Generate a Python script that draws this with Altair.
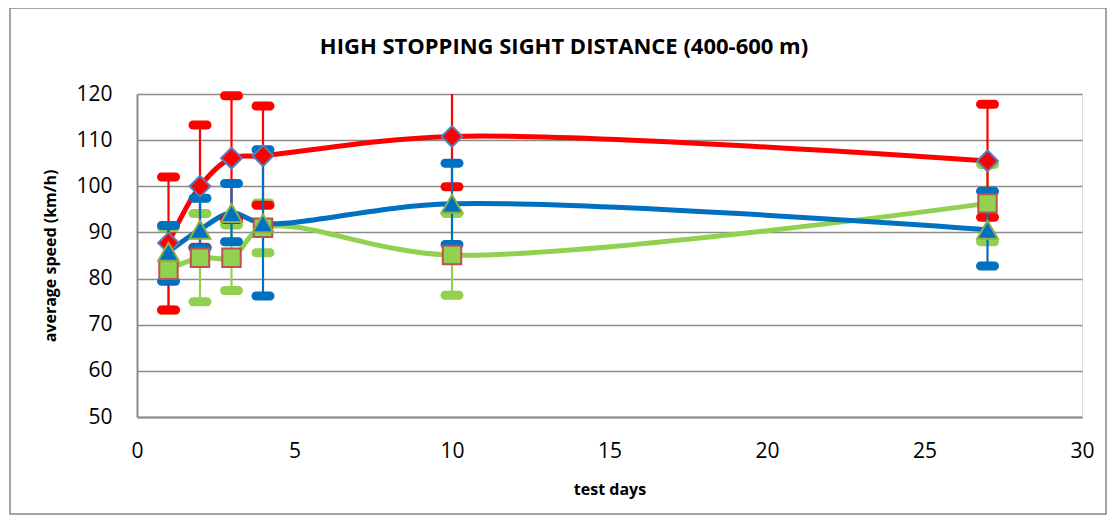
import altair as alt
import pandas as pd

days = [1, 2, 3, 4, 10, 27]

red_mean = [87.7, 100.0, 106.1, 106.6, 110.8, 105.5]
red_hi = [102.0, 113.3, 119.6, 117.4, 126.0, 117.8]
red_lo = [73.2, 86.8, 92.8, 95.9, 99.9, 93.3]

blue_mean = [85.8, 90.6, 94.2, 92.0, 96.2, 90.6]
blue_hi = [91.5, 97.4, 100.6, 107.9, 105.0, 98.9]
blue_lo = [79.4, 86.6, 88.0, 76.2, 87.4, 82.7]

green_mean = [81.9, 84.5, 84.5, 91.0, 85.1, 96.3]
green_hi = [91.0, 94.1, 91.6, 96.4, 94.1, 104.7]
green_lo = [73.2, 75.0, 77.4, 85.6, 76.4, 88.0]

chart_title = "HIGH STOPPING SIGHT DISTANCE (400-600 m)"

series_names = ["red", "blue", "green"]
series_colors = {"red": "#FF0000", "blue": "#0070C0", "green": "#92D050"}
marker_shapes = {"red": "diamond", "blue": "triangle-up", "green": "square"}
marker_strokes = {"red": "#4F81BD", "blue": "#8DB04A", "green": "#C0504D"}
marker_sizes = {"red": 430, "blue": 430, "green": 340}

means = {"red": red_mean, "blue": blue_mean, "green": green_mean}
his = {"red": red_hi, "blue": blue_hi, "green": green_hi}
los = {"red": red_lo, "blue": blue_lo, "green": green_lo}

rows = []
for s in series_names:
    for d, m, h, l in zip(days, means[s], his[s], los[s]):
        rows.append({"series": s, "day": d, "mean": m, "hi": h, "lo": l})
df = pd.DataFrame(rows)

FONT = "Open Sans"
GRAY = "#8C8C8C"

xscale = alt.Scale(domain=[0, 30], nice=False)
yscale = alt.Scale(domain=[50, 120], nice=False)

x_enc = alt.X(
    "day:Q",
    scale=xscale,
    axis=alt.Axis(
        values=[0, 5, 10, 15, 20, 25, 30],
        grid=False,
        ticks=False,
        domainColor=GRAY,
        domainWidth=2,
        labelFontSize=21,
        labelFont=FONT,
        labelColor="#000000",
        labelPadding=23,
        labelFlush=False,
        title="test days",
        titleFont=FONT,
        titleFontSize=16,
        titleFontWeight="bold",
        titleColor="#000000",
        titleBaseline="middle",
        titleY=72,
    ),
)
y_enc = alt.Y(
    "mean:Q",
    scale=yscale,
    axis=alt.Axis(
        values=[50, 60, 70, 80, 90, 100, 110, 120],
        grid=True,
        gridColor=GRAY,
        gridWidth=1.5,
        ticks=False,
        domainColor=GRAY,
        domainWidth=2,
        labelFontSize=21,
        labelFont=FONT,
        labelColor="#000000",
        labelPadding=25,
        title="average speed (km/h)",
        titleFont=FONT,
        titleFontSize=16,
        titleFontWeight="bold",
        titleColor="#000000",
        titleAngle=-90,
        titleAlign="center",
        titleBaseline="middle",
        titleX=-87,
        titleY=161.5,
    ),
)

base = alt.Chart(df)
one_row = base.transform_filter("datum.series == 'red' && datum.day == 1")

border = one_row.mark_rect(fill=None, stroke="#888888", strokeWidth=1.5).encode(
    x=alt.value(-127), x2=alt.value(969), y=alt.value(-86), y2=alt.value(420)
)

title_text = one_row.mark_text(
    text=chart_title, font=FONT, fontSize=22, fontWeight="bold", color="#000000",
    align="center", baseline="middle",
).encode(x=alt.value(427), y=alt.value(-47))

layers = [border, title_text]

# smoothed lines
for s in ["green", "blue", "red"]:
    layers.append(
        base.transform_filter(f"datum.series == '{s}'")
        .mark_line(color=series_colors[s], strokeWidth=5, interpolate="catmull-rom")
        .encode(x=x_enc, y=y_enc)
    )

# error bars
for s in ["green", "red", "blue"]:
    sub = base.transform_filter(f"datum.series == '{s}'")
    layers.append(
        sub.mark_rule(color=series_colors[s], strokeWidth=2.2, clip=True).encode(
            x=alt.X("day:Q", scale=xscale), y=alt.Y("lo:Q", scale=yscale), y2="hi:Q"
        )
    )
    for end in ["lo", "hi"]:
        layers.append(
            sub.transform_filter(f"datum.{end} <= 120")
            .mark_tick(
                color=series_colors[s], orient="horizontal", size=23, thickness=9,
                cornerRadius=4.5, opacity=1,
            )
            .encode(x=alt.X("day:Q", scale=xscale), y=alt.Y(f"{end}:Q", scale=yscale))
        )

# markers
for s in ["red", "green", "blue"]:
    layers.append(
        base.transform_filter(f"datum.series == '{s}'")
        .mark_point(
            shape=marker_shapes[s], filled=True, fill=series_colors[s],
            stroke=marker_strokes[s], strokeWidth=2, size=marker_sizes[s], opacity=1,
        )
        .encode(x=alt.X("day:Q", scale=xscale), y=alt.Y("mean:Q", scale=yscale))
    )

chart = (
    alt.layer(*layers)
    .properties(
        width=945,
        height=323,
        autosize=alt.AutoSizeParams(type="none"),
        padding={"left": 129, "top": 86, "right": 26, "bottom": 100},
    )
    .configure_view(strokeWidth=0, stroke="transparent")
    .configure(background="#FFFFFF")
)

chart.save("out.html", embed_options={"renderer": "svg", "actions": False})
